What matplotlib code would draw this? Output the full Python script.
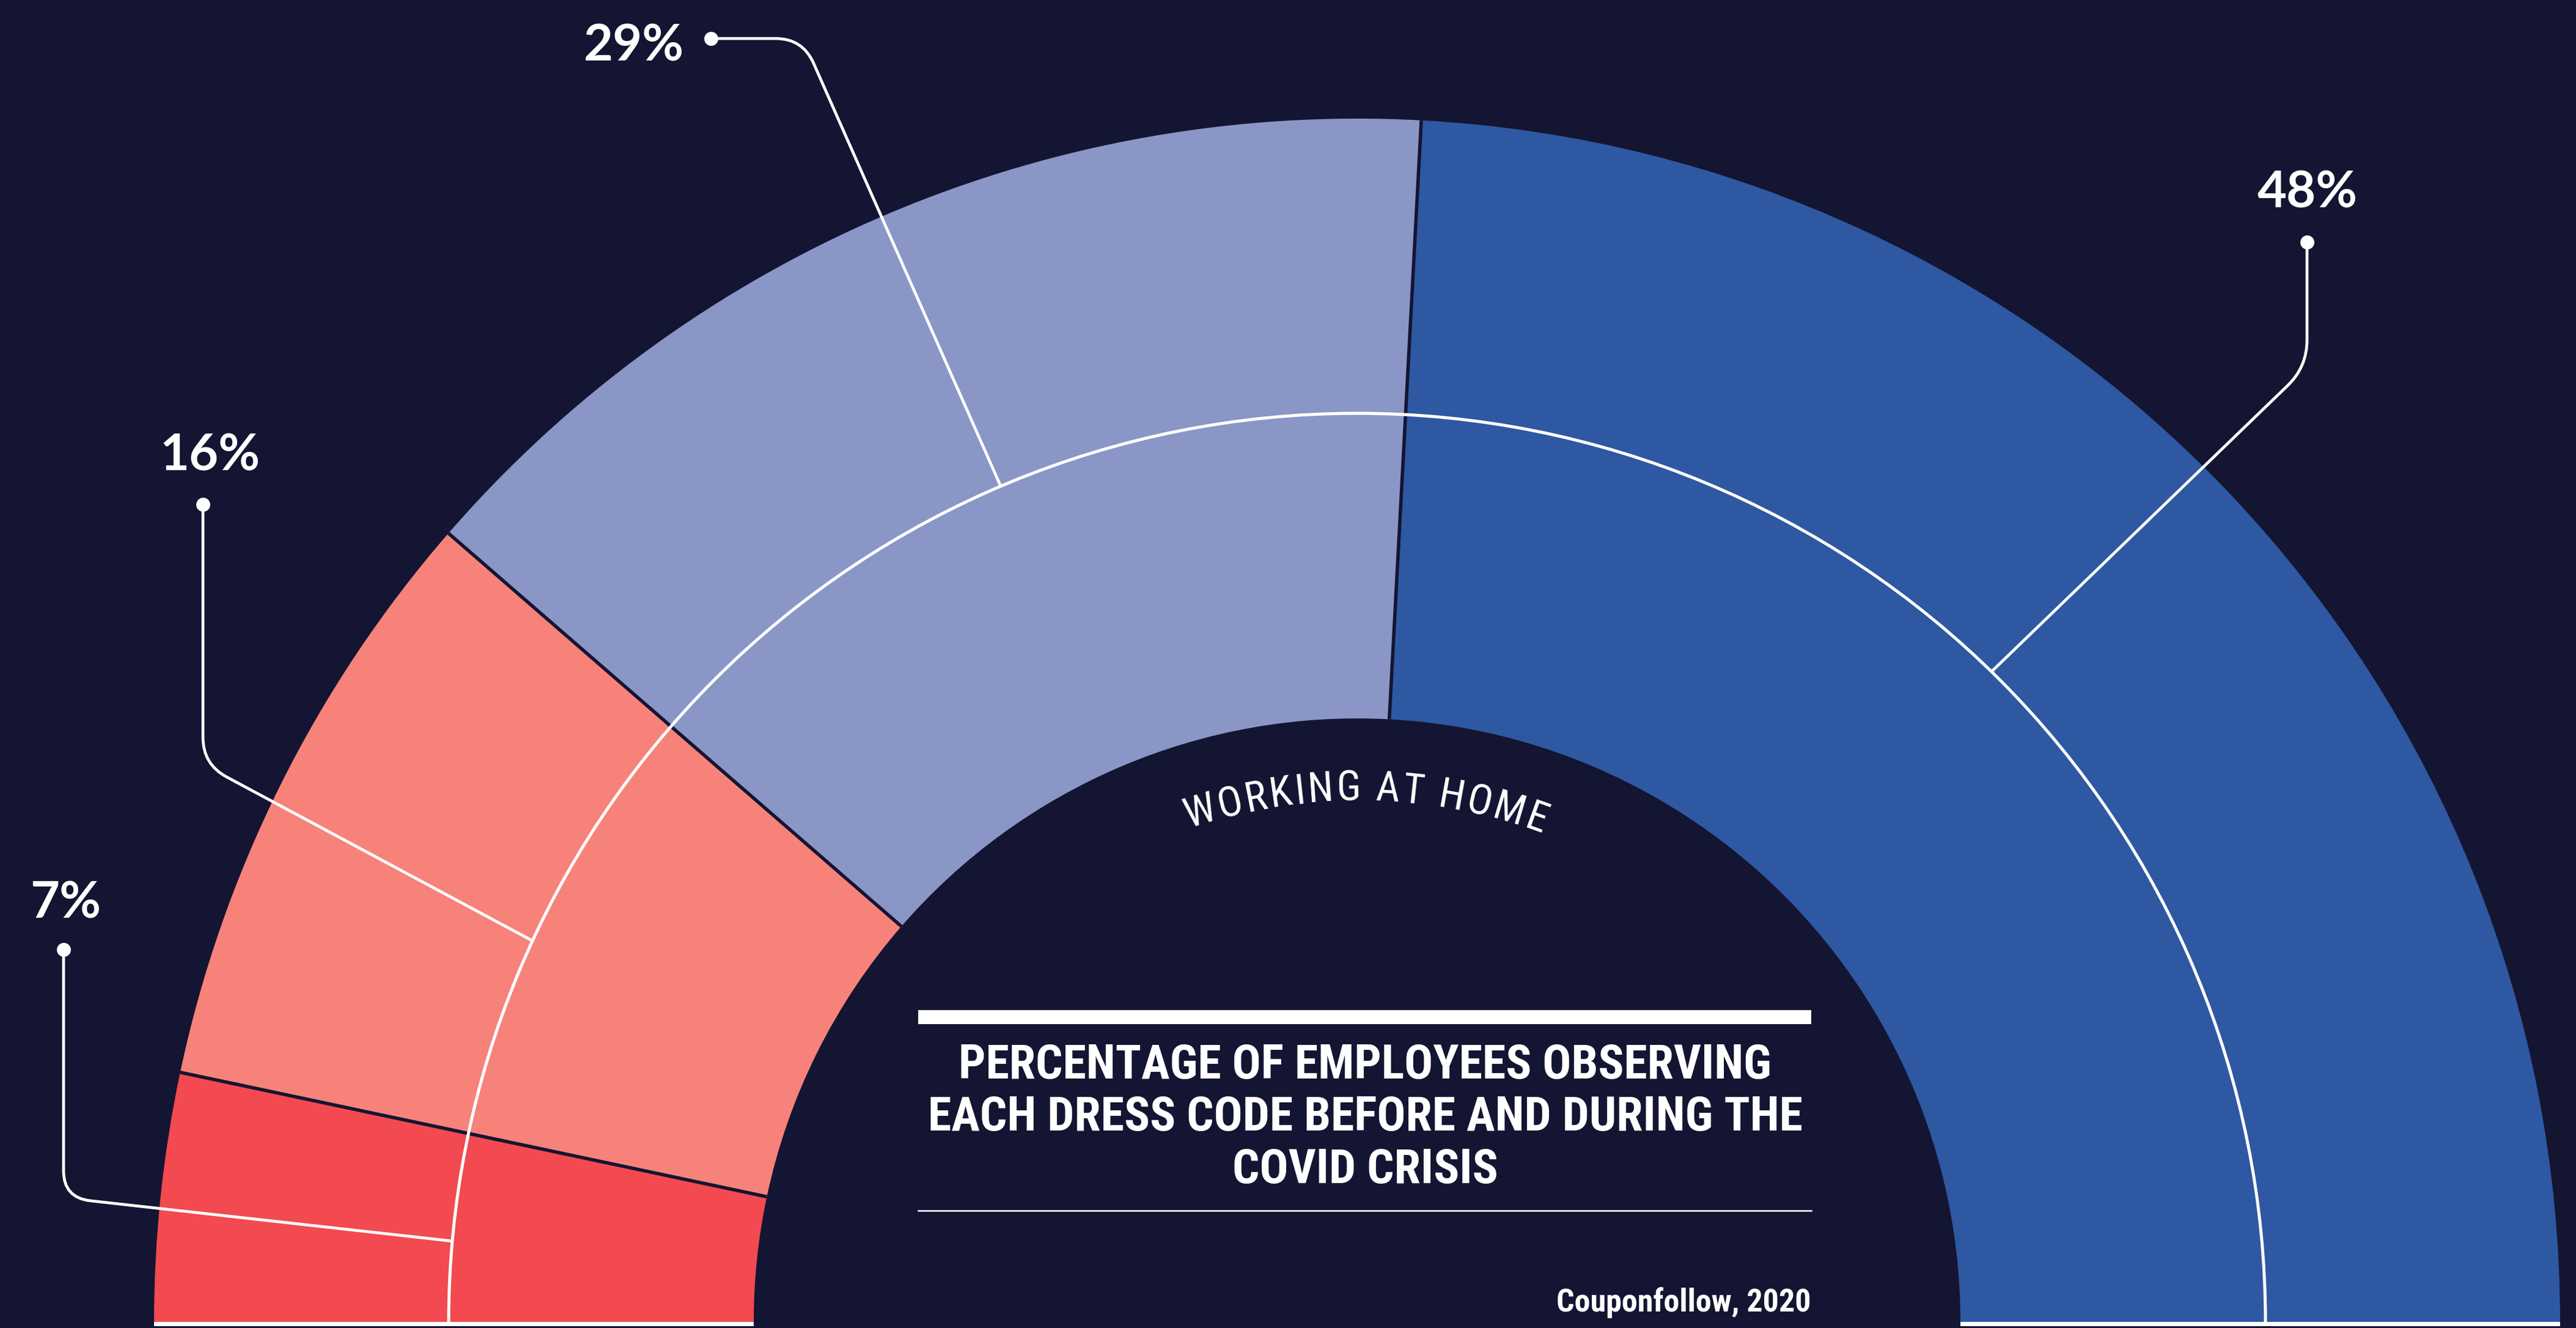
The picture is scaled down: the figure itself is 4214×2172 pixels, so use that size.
import numpy as np
import matplotlib
matplotlib.use("Agg")
import matplotlib.pyplot as plt
from matplotlib import font_manager
from matplotlib.font_manager import FontProperties
from matplotlib.patches import Wedge, Arc, Rectangle, PathPatch
from matplotlib.path import Path
from matplotlib.textpath import TextPath

# --- Data ---
# arc shares measured from the segment angles; the printed labels are rounded
shares = [6.65, 16.1, 28.95, 48.3]
share_labels = ["7%", "16%", "29%", "48%"]
seg_colors = ["#F24A50", "#F7827A", "#8A96C6", "#2E58A1"]
arc_label = "WORKING AT HOME"
title_lines = ["PERCENTAGE OF EMPLOYEES OBSERVING",
               "EACH DRESS CODE BEFORE AND DURING THE",
               "COVID CRISIS"]
source = "Couponfollow, 2020"

# --- Layout (pixels of the 4214 x 2172 output, y measured from the top) ---
W, H, DPI = 4214, 2172, 100
CX, CY = 2220, 2162            # donut centre
R_OUT, R_MID, R_IN = 1968, 1486, 987
R_TXT = 853                    # baseline radius of the curved label
BG = "#141532"

label_xy = [(107, 1502), (344, 770), (1037, 99), (3775, 340)]   # text centre, baseline
dot_xy = [(104, 1553), (332, 825), (1163, 63), (3774, 396)]
elbow_xy = [(104, 1959), (332, 1250), (1313, 63), (3774, 600)]
leader_deg = [174.9, 155.2, 113.1, 45.7]   # where the leader meets the middle ring
BEND = 44


def px(x, y):
    return x - CX, CY - y


installed = {f.name for f in font_manager.fontManager.ttflist}


def pick(*names):
    for n in names:
        if n in installed:
            return n
    return "DejaVu Sans"


COND = pick("Roboto Condensed", "Liberation Sans Narrow", "DejaVu Sans")
NUM = pick("Lato", "Open Sans", "DejaVu Sans")

fig = plt.figure(figsize=(W / DPI, H / DPI), dpi=DPI, facecolor=BG)
ax = fig.add_axes([0, 0, 1, 1])
ax.set_xlim(-CX, W - CX)
ax.set_ylim(-(H - CY), CY)
ax.axis("off")

# --- donut segments, clockwise from the left ---
edges = 180 - np.cumsum([0] + shares) * 1.8
for i, c in enumerate(seg_colors):
    ax.add_patch(Wedge((0, 0), R_OUT, edges[i + 1], edges[i], width=R_OUT - R_IN,
                       facecolor=c, edgecolor="none", lw=0, zorder=1))

# dark dividers between segments
for a in edges[1:-1]:
    t = np.radians(a)
    ax.plot([R_IN * np.cos(t), R_OUT * np.cos(t)], [R_IN * np.sin(t), R_OUT * np.sin(t)],
            color=BG, lw=4.0, solid_capstyle="butt", zorder=3)

# white middle ring
ax.add_patch(Arc((0, 0), 2 * R_MID, 2 * R_MID, theta1=0, theta2=180,
                 color="white", lw=3.6, zorder=4))

# white floor under the ring ends
for x0 in (-R_OUT, R_IN):
    ax.add_patch(Rectangle((x0, -7), R_OUT - R_IN, 7, facecolor="white",
                           edgecolor="none", zorder=5))

# --- leader lines ---
for dot, elbow, deg in zip(dot_xy, elbow_xy, leader_deg):
    p0 = np.array(px(*dot))
    pc = np.array(px(*elbow))
    t = np.radians(deg)
    pe = R_MID * np.array([np.cos(t), np.sin(t)])
    u1 = (pc - p0) / np.linalg.norm(pc - p0)
    u2 = (pe - pc) / np.linalg.norm(pe - pc)
    verts = [p0, pc - BEND * u1, pc, pc + BEND * u2, pe]
    codes = [Path.MOVETO, Path.LINETO, Path.CURVE3, Path.CURVE3, Path.LINETO]
    ax.add_patch(PathPatch(Path(verts, codes), fill=False, edgecolor="white", lw=3.4,
                           capstyle="butt", joinstyle="round", zorder=6))
    ax.plot(p0[0], p0[1], "o", ms=16.5, color="white", mec="none", zorder=7)

# --- text ---
renderer = fig.canvas.get_renderer()


def width_px(s, fp):
    return renderer.get_text_width_height_descent(s, fp, ismath=False)[0]


def size_for_cap(family, cap_px, weight="normal"):
    # font size (pt) whose capital height is cap_px pixels
    ext = TextPath((0, 0), "H", size=100,
                   prop=FontProperties(family=family, weight=weight)).get_extents()
    return 100 * cap_px / ext.height * 72 / DPI


# percentages
fp = FontProperties(family=NUM, weight="bold", size=100)
pct_size = 100 * 164 / width_px("48%", fp)
for lab, (x, y) in zip(share_labels, label_xy):
    ax.text(*px(x, y), lab, fontsize=pct_size, family=NUM, weight="bold",
            color="white", ha="center", va="baseline", zorder=8)

# title block
ax.add_patch(Rectangle(px(1502, 1675), 1461, 23, facecolor="white", edgecolor="none", zorder=5))
ax.plot([px(1502, 0)[0], px(2963, 0)[0]], [px(0, 1980)[1]] * 2, color="white", lw=1.8, zorder=5)

fpt = FontProperties(family=COND, weight="bold", size=100)
title_size = 100 * 1430 / width_px(title_lines[1], fpt)
for line, yb in zip(title_lines, [1764, 1849.5, 1935]):
    ax.text(*px(2233, yb), line, fontsize=title_size, family=COND, weight="bold",
            color="white", ha="center", va="baseline", zorder=8)

src_size = 100 * 416 / width_px(source, fpt)
ax.text(*px(2963, 2145), source, fontsize=src_size, family=COND, weight="bold",
        color="white", ha="right", va="baseline", zorder=8)

# curved label inside the ring
arc_size = size_for_cap(COND, 48)
fpa = FontProperties(family=COND, size=arc_size)
n = len(arc_label)
natural = width_px(arc_label, fpa)
arc_len = 590
track = (arc_len - natural) / (n - 1)
total = natural + track * (n - 1)
for i, ch in enumerate(arc_label):
    if ch == " ":
        continue
    c = width_px(arc_label[:i + 1], fpa) - width_px(ch, fpa) / 2 + track * i
    th = np.radians(89) - (c - total / 2) / R_TXT
    ax.text(R_TXT * np.cos(th), R_TXT * np.sin(th), ch, fontsize=arc_size, family=COND,
            color="white", ha="center", va="baseline", rotation=np.degrees(th) - 90,
            rotation_mode="anchor", zorder=8)

fig.savefig("out.png", dpi=DPI, facecolor=BG)
